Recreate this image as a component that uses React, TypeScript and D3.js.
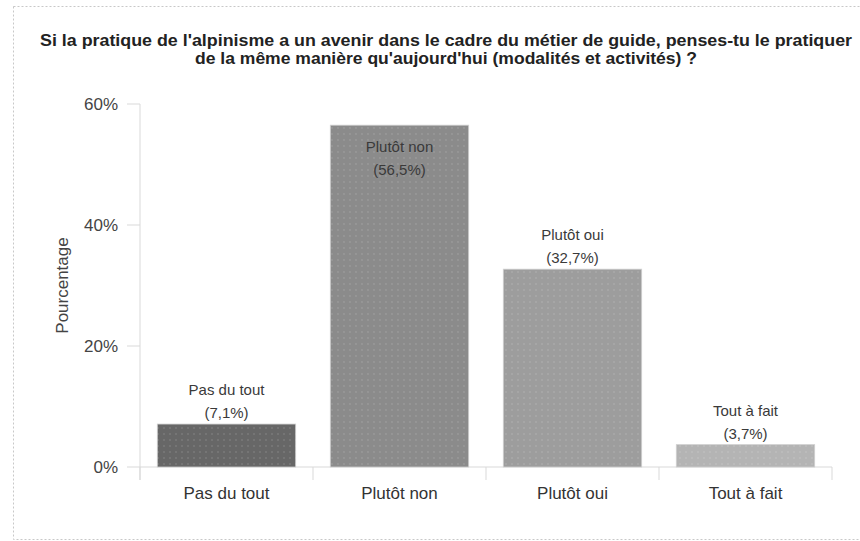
import React from 'react';
import * as d3 from 'd3';

const categories = ['Pas du tout', 'Plutôt non', 'Plutôt oui', 'Tout à fait'];
const values = [7.1, 56.5, 32.7, 3.7];
const barColors = ['#676767', '#8b8b8b', '#9d9d9d', '#b4b4b4'];
const yTicks = [0, 20, 40, 60];
const titleLines = [
  "Si la pratique de l'alpinisme a un avenir dans le cadre du métier de guide, penses-tu le pratiquer",
  "de la même manière qu'aujourd'hui (modalités et activités) ?",
];
const titleWidths = [812, 502];

export default function App() {
  const width = 860;
  const height = 541;
  const left = 140;
  const right = 832;
  const top = 104;
  const bottom = 467;

  // scales
  const x = d3.scaleBand().domain(categories).range([left, right]).paddingInner(0.2).paddingOuter(0.1);
  const y = d3.scaleLinear().domain([0, 60]).range([bottom, top]);
  const fmt = (v: number) => '(' + v.toFixed(1).replace('.', ',') + '%)';
  const font = '"Liberation Sans", Arial, sans-serif';

  return (
    <svg width={width} height={height} style={{ position: 'absolute', left: 0, top: 0 }} fontFamily={font}>
      <defs>
        <pattern id="dots" width="6" height="6" patternUnits="userSpaceOnUse">
          <circle cx="2" cy="2" r="0.7" fill="#ffffff" opacity="0.25" />
        </pattern>
      </defs>
      <rect x={13.5} y={6.5} width={860} height={533} fill="#fff" stroke="#c8c8c8" strokeDasharray="2,2" />

      {/* title */}
      {titleLines.map((t, i) => (
        <text key={i} x={446} y={46 + i * 18} textAnchor="middle" fontSize={16} fontWeight="bold" fill="#222"
          textLength={titleWidths[i]} lengthAdjust="spacingAndGlyphs">
          {t}
        </text>
      ))}

      {/* y axis */}
      <line x1={left} x2={left} y1={top} y2={bottom + 13} stroke="#d9d9d9" />
      {yTicks.map(t => (
        <g key={t}>
          <line x1={left - 13} x2={left} y1={y(t)} y2={y(t)} stroke="#d9d9d9" />
          <text x={left - 22} y={y(t) + 6} textAnchor="end" fontSize={17} fill="#444">{t}%</text>
        </g>
      ))}
      <text transform={`translate(68,${(top + bottom) / 2}) rotate(-90)`} textAnchor="middle" fontSize={17} fill="#444">
        Pourcentage
      </text>

      {/* x axis */}
      <line x1={left} x2={right} y1={bottom} y2={bottom} stroke="#d9d9d9" />
      {categories.map((c, i) => {
        const x0 = (x(c) as number) - x.step() * x.paddingInner() / 2;
        return <line key={'t' + i} x1={x0} x2={x0} y1={bottom} y2={bottom + 13} stroke="#d9d9d9" />;
      })}
      <line x1={right} x2={right} y1={bottom} y2={bottom + 13} stroke="#d9d9d9" />
      {categories.map(c => (
        <text key={'l' + c} x={(x(c) as number) + x.bandwidth() / 2} y={499} textAnchor="middle" fontSize={17} fill="#333">
          {c}
        </text>
      ))}

      {/* bars */}
      {categories.map((c, i) => {
        const bx = x(c) as number;
        const by = y(values[i]);
        const cx = bx + x.bandwidth() / 2;
        const inside = by - 40 < top;
        const l1 = inside ? by + 27 : by - 29;
        const l2 = inside ? by + 50 : by - 6;
        return (
          <g key={c}>
            <rect x={bx} y={by} width={x.bandwidth()} height={bottom - by} fill={barColors[i]} stroke="#d0d0d0" strokeWidth={0.8} />
            <rect x={bx} y={by} width={x.bandwidth()} height={bottom - by} fill="url(#dots)" />
            <text x={cx} y={l1} textAnchor="middle" fontSize={15} fill="#3a3a3a">{c}</text>
            <text x={cx} y={l2} textAnchor="middle" fontSize={15} fill="#3a3a3a">{fmt(values[i])}</text>
          </g>
        );
      })}
    </svg>
  );
}
